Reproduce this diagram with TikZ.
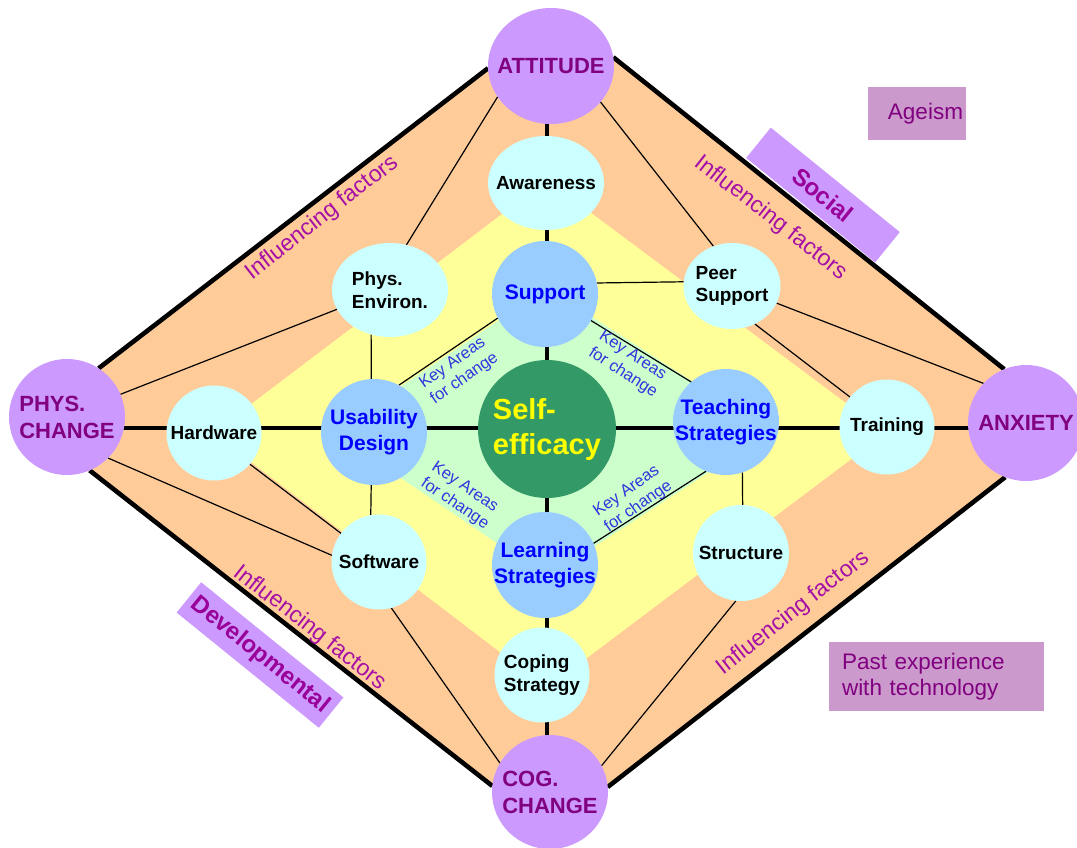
\documentclass[tikz,border=0pt]{standalone}
\usepackage{fontspec}
\setmainfont{Liberation Sans}
\usetikzlibrary{shapes.geometric}
\pgfdeclarelayer{background}
\pgfsetlayers{background,main}

\definecolor{outerfill}{HTML}{CC99FF}
\definecolor{outertext}{HTML}{800080}
\definecolor{factorfill}{HTML}{CCFFFF}
\definecolor{keyfill}{HTML}{99CCFF}
\definecolor{keytext}{HTML}{0000FF}
\definecolor{corefill}{HTML}{339966}
\definecolor{coretext}{HTML}{FFFF00}
\definecolor{orangezone}{HTML}{FFCC99}
\definecolor{yellowzone}{HTML}{FFFF99}
\definecolor{greenzone}{HTML}{CCFFCC}
\definecolor{inflcolor}{HTML}{A610A6}
\definecolor{areacolor}{HTML}{3333DD}
\definecolor{tagtext}{HTML}{990099}
\definecolor{notefill}{HTML}{CC99CC}

\begin{document}
\begin{tikzpicture}[x=1pt,y=-1pt,
  blob/.style 2 args={ellipse, inner sep=-80pt, outer sep=0pt,
    minimum width=#1, minimum height=#2},
  outernode/.style={fill=outerfill, text=outertext, align=left,
    font=\bfseries\fontsize{22}{27}\selectfont},
  factor/.style={fill=factorfill, text=black, align=left,
    font=\bfseries\fontsize{19}{22.5}\selectfont},
  keynode/.style={fill=keyfill, text=keytext, align=center,
    font=\bfseries\fontsize{21}{26}\selectfont},
  corenode/.style={fill=corefill, text=coretext, align=left,
    font=\bfseries\fontsize{29}{35}\selectfont},
  thickline/.style={line width=4.6pt},
  thinline/.style={line width=1.2pt},
  infl/.style={text=inflcolor, font=\fontsize{23}{27}\selectfont, inner sep=0pt},
  areas/.style={text=areacolor, align=left,
    font=\fontsize{16.5}{19.5}\selectfont, inner sep=0pt},
  tag/.style={fill=outerfill, text=tagtext,
    font=\bfseries\fontsize{24}{28}\selectfont, inner sep=0pt,
    minimum height=39pt},
  note/.style={fill=notefill, text=outertext,
    font=\fontsize{22.5}{25.5}\selectfont, inner ysep=0pt},
]
\useasboundingbox (0,0) rectangle (1077,848);

% outer influences
\node[blob={126pt}{116pt}, outernode] (att)  at (551,66)   {ATTITUDE};
\node[blob={116pt}{116pt}, outernode] (phys) at (67,417)   {PHYS.\\CHANGE};
\node[blob={116pt}{116pt}, outernode] (anx)  at (1026,423) {ANXIETY};
\node[blob={116pt}{114pt}, outernode] (cog)  at (550,792)  {COG.\\CHANGE};

% influencing factors
\node[blob={116pt}{94pt}, factor] (awr)    at (546,183) {Awareness};
\node[blob={116pt}{94pt}, factor] (pe)     at (390,290) {Phys.\\Environ.};
\node[blob={97pt}{86pt},  factor] (peer)   at (732,286) {Peer\\Support};
\node[blob={95pt}{95pt},  factor] (hw)     at (214,433) {Hardware};
\node[blob={95pt}{95pt},  factor] (train)  at (887,427) {Training};
\node[blob={95pt}{95pt},  factor] (soft)   at (379,562) {Software};
\node[blob={96pt}{96pt},  factor] (struct) at (741,553) {Structure};
\node[blob={95pt}{95pt},  factor] (cope)   at (542,675) {Coping\\Strategy};

% key areas for change
\node[blob={106pt}{106pt}, keynode] (supp)  at (545,294) {Support};
\node[blob={106pt}{106pt}, keynode] (usab)  at (374,432) {Usability\\Design};
\node[blob={106pt}{106pt}, keynode] (teach) at (726,422) {Teaching\\Strategies};
\node[blob={106pt}{106pt}, keynode] (learn) at (545,565) {Learning\\Strategies};

% centre
\node[blob={138pt}{138pt}, corenode] (self) at (547,429) {Self-\\efficacy};

\coordinate (hax) at (0,428);
\coordinate (vax) at (547,0);

\begin{pgfonlayer}{background}
  % zones
  \fill[orangezone] (phys.57) -- (att.182) -- (att.center) -- (att.8)
    -- (anx.112) -- (anx.center) -- (anx.249) -- (cog.5) -- (cog.center)
    -- (cog.174) -- (phys.-67) -- (phys.center) -- cycle;
  \fill[yellowzone] (547,180) -- (886,433) -- (547,688) -- (213,433) -- cycle;
  \fill[greenzone] (547,288) -- (771,432) -- (547,577) -- (333,432) -- cycle;

  % main axes
  \draw[thickline] (phys |- hax) -- (hw |- hax) -- (usab |- hax)
    -- (self |- hax) -- (teach |- hax) -- (train |- hax) -- (anx |- hax);
  \draw[thickline] (att -| vax) -- (awr -| vax) -- (supp -| vax)
    -- (self -| vax) -- (learn -| vax) -- (cope -| vax) -- (cog -| vax);

  % thin links
  \draw[thinline] (att.210) -- (pe.70);
  \draw[thinline] (att.-36) -- (peer.115);
  \draw[thinline] (phys.23) -- (pe.200);
  \draw[thinline] (phys.-45) -- (soft.172);
  \draw[thinline] (hw.-41) -- (soft.143);
  \draw[thinline] (pe.247) -- (usab.93);
  \draw[thinline] (usab.267) -- (soft.100);
  \draw[thinline] (supp.12) -- (peer.175);
  \draw[thinline] (peer.-21) -- (anx.137);
  \draw[thinline] (peer.-59) -- (train.141);
  \draw[thinline] (teach.-72) -- (struct.88);
  \draw[thinline] (struct.-96) -- (cog.27);
  \draw[thinline] (soft.-75) -- (cog.150);
  \draw[thinline] (usab.62) -- (supp.207);
  \draw[thinline] (supp.-30) -- (teach.131);
  \draw[thinline] (teach.248) -- (learn.24);

  % outer frame
  \draw[thickline] (phys.57) -- (att.182);
  \draw[thickline] (att.8) -- (anx.112);
  \draw[thickline] (anx.249) -- (cog.5);
  \draw[thickline] (cog.174) -- (phys.-67);
\end{pgfonlayer}

% zone labels
\node[infl, rotate=38]  (inful) at (322,218) {Influencing factors};
\node[infl, rotate=-38] (infur) at (771,218) {Influencing factors};
\node[infl, rotate=-38] (infll) at (310,628) {Influencing factors};
\node[infl, rotate=38]  (inflr) at (793,613) {Influencing factors};

\node[areas, rotate=35]  (kaul) at (459,371) {Key Areas\\for change};
\node[areas, rotate=-33] (kaur) at (628,365) {Key Areas\\for change};
\node[areas, rotate=-34] (kall) at (460,496) {Key Areas\\for change};
\node[areas, rotate=35]  (kalr) at (633,499) {Key Areas\\for change};

% category tags
\node[tag, rotate=-39, minimum width=166pt] (social) at (823,195) {Social};
\node[tag, rotate=-39, minimum width=183pt] (devel) at (260,655) {Developmental};
\node[note, minimum height=53pt, text width=92pt, inner xsep=3pt,
  align=right] (ageism) at (917,113.5) {Ageism};
\node[note, minimum height=69pt, text width=189pt, inner xsep=13pt,
  align=left] (past) at (936.5,676.5) {Past experience\\with technology};
\end{tikzpicture}
\end{document}
